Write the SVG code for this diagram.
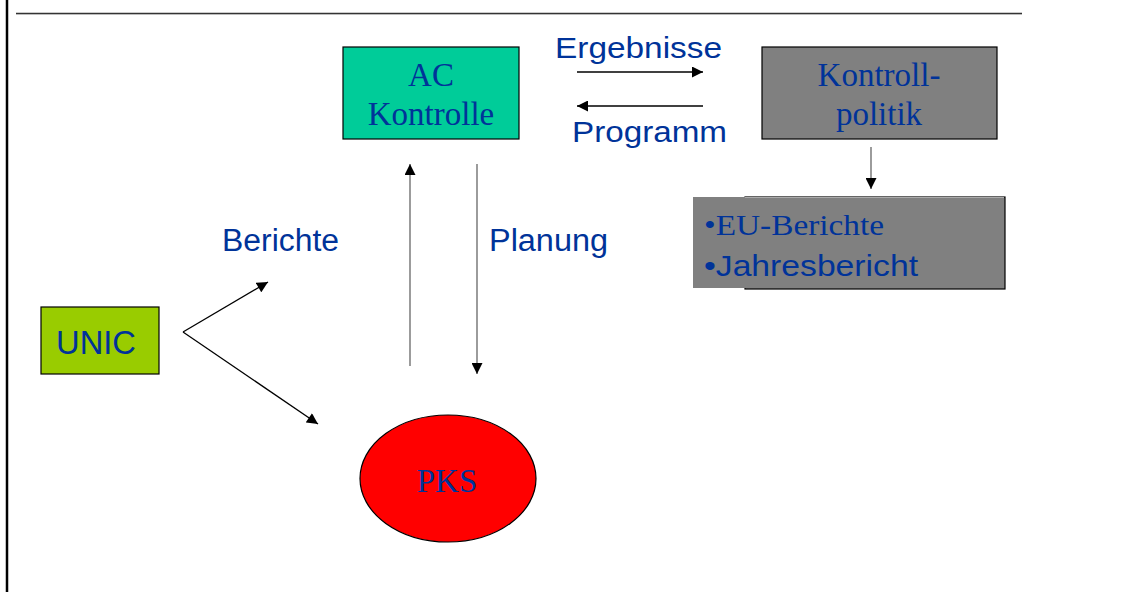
<svg xmlns="http://www.w3.org/2000/svg" width="1138" height="592" viewBox="0 0 1138 592">
  <style>
    .serif { font-family: "Liberation Serif", "Times New Roman", serif; fill: #003399; }
    .sans { font-family: "Liberation Sans", Arial, sans-serif; fill: #003399; }
    .box { stroke: #000; stroke-width: 1.2; }
    .conn { fill: none; stroke: #000; stroke-width: 1.3; marker-end: url(#arrow); }
    .conn.grey { stroke: #666; }
  </style>
  <defs>
    <marker id="arrow" viewBox="0 0 10 10" refX="10" refY="5" markerWidth="12" markerHeight="11" markerUnits="userSpaceOnUse" orient="auto">
      <path d="M0,0 L10,5 L0,10 Z" fill="#000"/>
    </marker>
  </defs>

  <rect width="1138" height="592" fill="#fff"/>

  <!-- page frame -->
  <line x1="7" y1="0" x2="7" y2="592" stroke="#000" stroke-width="2.5"/>
  <line x1="16" y1="14.5" x2="1022" y2="14.5" stroke="#bbb" stroke-width="1"/>
  <line x1="16" y1="13.3" x2="1022" y2="13.3" stroke="#333" stroke-width="1.3"/>

  <!-- connectors -->
  <g id="connectors">
    <line class="conn" x1="577" y1="72" x2="703" y2="72"/>
    <line class="conn" x1="703" y1="106" x2="577" y2="106"/>
    <line class="conn grey" x1="871" y1="147" x2="871" y2="189"/>
    <line class="conn grey" x1="410" y1="366" x2="410" y2="164"/>
    <line class="conn grey" x1="477" y1="164" x2="477" y2="374"/>
    <line class="conn" x1="183" y1="332" x2="268" y2="282"/>
    <line class="conn" x1="183" y1="332" x2="318" y2="424"/>
  </g>

  <!-- connector labels -->
  <g id="labels">
    <text class="sans" x="555" y="58" font-size="29" textLength="167" lengthAdjust="spacingAndGlyphs">Ergebnisse</text>
    <text class="sans" x="572" y="142" font-size="29" textLength="155" lengthAdjust="spacingAndGlyphs">Programm</text>
    <text class="sans" x="222" y="251" font-size="31" textLength="117" lengthAdjust="spacingAndGlyphs">Berichte</text>
    <text class="sans" x="489" y="251" font-size="31" textLength="119" lengthAdjust="spacingAndGlyphs">Planung</text>
  </g>

  <g id="ac-kontrolle">
    <rect class="box" x="343" y="47" width="176" height="92" fill="#00CC99"/>
    <text class="serif" x="431" y="86" font-size="33" text-anchor="middle">AC</text>
    <text class="serif" x="431" y="125" font-size="33" text-anchor="middle">Kontrolle</text>
  </g>

  <g id="kontrollpolitik">
    <rect class="box" x="762" y="47" width="235" height="92" fill="#808080"/>
    <text class="serif" x="879" y="86" font-size="33" text-anchor="middle">Kontroll-</text>
    <text class="serif" x="879" y="125" font-size="33" text-anchor="middle">politik</text>
  </g>

  <g id="berichte">
    <rect x="745" y="197" width="260" height="92" fill="#808080" stroke="#000" stroke-width="1.2"/>
    <rect x="693" y="197" width="311" height="91" fill="#808080"/>
    <line x1="745" y1="197.5" x2="1004" y2="197.5" stroke="#aaa" stroke-width="1"/>
    <text class="serif" x="704" y="235" font-size="29" textLength="180" lengthAdjust="spacingAndGlyphs">•EU-Berichte</text>
    <text class="sans" x="704" y="276" font-size="29" textLength="214" lengthAdjust="spacingAndGlyphs">•Jahresbericht</text>
  </g>

  <g id="unic">
    <rect class="box" x="41" y="307" width="118" height="67" fill="#99CC00"/>
    <text class="sans" x="56" y="354" font-size="33" textLength="80" lengthAdjust="spacingAndGlyphs">UNIC</text>
  </g>

  <g id="pks">
    <ellipse cx="448" cy="478.5" rx="88" ry="63.5" fill="#FF0000" stroke="#000" stroke-width="1.2"/>
    <text class="serif" x="447" y="492" font-size="33" text-anchor="middle">PKS</text>
  </g>
</svg>
